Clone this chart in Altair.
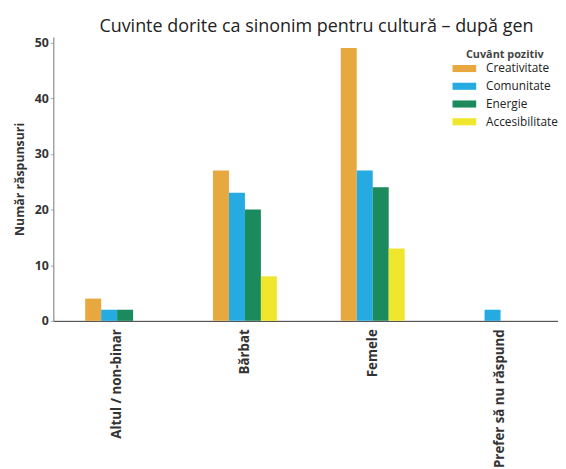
import altair as alt
import pandas as pd

genders = ["Altul / non-binar", "Bărbat", "Femele", "Prefer să nu răspund"]
words = ["Creativitate", "Comunitate", "Energie", "Accesibilitate"]
creativitate = [4, 27, 49, 0]
comunitate = [2, 23, 27, 2]
energie = [2, 20, 24, 0]
accesibilitate = [0, 8, 13, 0]
colors = ["#E8A840", "#25AAE1", "#1B8A5C", "#F0E62C"]

rows = []
for series_name, vals in zip(words, [creativitate, comunitate, energie, accesibilitate]):
    for g, v in zip(genders, vals):
        rows.append({"Gen": g, "Cuvânt": series_name, "Valoare": v})
df = pd.DataFrame(rows)

chart = alt.Chart(df).mark_bar().encode(
    x=alt.X("Gen:N", sort=genders, title=None,
            scale=alt.Scale(paddingInner=0.5, paddingOuter=0.2244, align=0.555),
            axis=alt.Axis(labelAngle=-90, labelFontSize=13.5, labelFontWeight="bold",
                          labelColor="#333", ticks=False, domainColor="#333",
                          labelPadding=8)),
    xOffset=alt.XOffset("Cuvânt:N", sort=words),
    y=alt.Y("Valoare:Q", title="Număr răspunsuri",
            scale=alt.Scale(domain=[0, 51], nice=False),
            axis=alt.Axis(values=[0, 10, 20, 30, 40, 50], grid=False,
                          labelFontSize=12.5, labelFontWeight="bold", labelColor="#333",
                          titleFontSize=12.5, titleFontWeight="bold", titleColor="#333",
                          domainColor="#777", tickColor="#aaa", tickSize=3,
                          titlePadding=8)),
    color=alt.Color("Cuvânt:N", sort=words,
                    scale=alt.Scale(domain=words, range=colors),
                    legend=alt.Legend(title="Cuvânt pozitiv", orient="none",
                                      legendX=405, legendY=12,
                                      titleFontSize=11, titleFontWeight="bold",
                                      titleColor="#444", labelFontSize=12,
                                      labelColor="#222",
                                      symbolType="M-1,-0.3H1V0.3H-1Z",
                                      symbolSize=576, symbolStrokeWidth=0,
                                      labelOffset=10, rowPadding=-0.7, titlePadding=-3,
                                      titleAlign="center", titleAnchor="middle")),
).properties(
    width=512, height=288,
    padding={"left": 5, "top": 5, "right": 0, "bottom": 5},
    title=alt.TitleParams("Cuvinte dorite ca sinonim pentru cultură – după gen",
                          fontSize=18.2, fontWeight="normal", color="#222",
                          anchor="start", dx=87, offset=1)
).configure(font="Open Sans").configure_view(stroke=None)

chart.save("out.html", embed_options={"renderer": "svg", "actions": False})
